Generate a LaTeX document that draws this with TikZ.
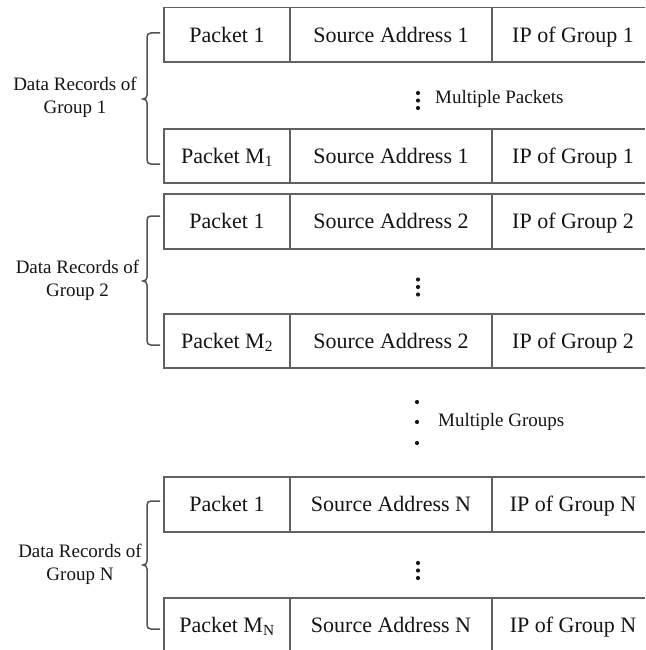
\documentclass[tikz,border=0pt]{standalone}
\usepackage{fontspec}
\setmainfont{Liberation Serif}
\begin{document}
\begin{tikzpicture}[x=1pt,y=-1pt,
  grid/.style={draw=black!62,line width=1.3pt},
  bracepath/.style={draw=black!68,line width=1.5pt},
  cell/.style={anchor=base,inner sep=0pt,text=black!92,font=\fontsize{22}{26}\selectfont},
  sidelabel/.style={anchor=north,inner sep=0pt,align=center,text=black!92,font=\fontsize{19}{23}\selectfont},
  note/.style={anchor=west,inner sep=0pt,text=black!92,font=\fontsize{19}{23}\selectfont},
  vdot/.style={fill=black!90,draw=none,circle,inner sep=0pt,minimum size=4.2pt}]
\useasboundingbox (0,0) rectangle (645,650);

% a closed record row: #1 top, #2 bottom
\newcommand\recrow[2]{%
  \draw[grid] (645,#1) -- (164,#1) -- (164,#2) -- (645,#2);
  \draw[grid] (290,#1) -- (290,#2);
  \draw[grid] (492,#1) -- (492,#2);}
% a group brace: #1 top, #2 tip, #3 bottom
\newcommand\grpbrace[3]{%
  \draw[bracepath] (160,#1) -- (151,#1) .. controls (148.5,#1) and (147,#1+1.5) .. (147,#1+4)
    -- (147,#2-4) .. controls (147,#2-1.5) and (145.5,#2) .. (143,#2)
    .. controls (145.5,#2) and (147,#2+1.5) .. (147,#2+4)
    -- (147,#3-4) .. controls (147,#3-1.5) and (148.5,#3) .. (151,#3) -- (160,#3);}

% ---- group 1
\recrow{7.5}{62}
\recrow{129}{183}
\node[cell] (g1p1) at (227,42.3) {Packet 1};
\node[cell] (g1s1) at (391,42.3) {Source Address 1};
\node[cell] (g1i1) at (573,42.3) {IP of Group 1};
\node[cell] (g1pm) at (227,163.3) {Packet M\textsubscript{1}};
\node[cell] (g1sm) at (391,163.3) {Source Address 1};
\node[cell] (g1im) at (573,163.3) {IP of Group 1};
\node[vdot] (g1d1) at (418,93) {};
\node[vdot] (g1d2) at (418,100.5) {};
\node[vdot] (g1d3) at (418,108) {};
\node[note] (g1note) at (435,99) {Multiple Packets};
\grpbrace{33}{99}{164}
\node[sidelabel] (g1lab) at (75,77) {Data Records of\\Group 1};

% ---- group 2
\recrow{194}{249}
\recrow{314}{368}
\node[cell] (g2p1) at (227,228.8) {Packet 1};
\node[cell] (g2s1) at (391,228.8) {Source Address 2};
\node[cell] (g2i1) at (573,228.8) {IP of Group 2};
\node[cell] (g2pm) at (227,348.3) {Packet M\textsubscript{2}};
\node[cell] (g2sm) at (391,348.3) {Source Address 2};
\node[cell] (g2im) at (573,348.3) {IP of Group 2};
\node[vdot] (g2d1) at (418,279.5) {};
\node[vdot] (g2d2) at (418,287) {};
\node[vdot] (g2d3) at (418,294.5) {};
\grpbrace{216}{281}{345}
\node[sidelabel] (g2lab) at (77.5,260) {Data Records of\\Group 2};

% ---- between groups
\node[vdot] (gd1) at (417,402) {};
\node[vdot] (gd2) at (417,422) {};
\node[vdot] (gd3) at (417,443) {};
\node[note] (gnote) at (438,422) {Multiple Groups};

% ---- group N
\recrow{477}{532}
\draw[grid] (645,598) -- (164,598) -- (164,651);
\draw[grid] (290,598) -- (290,651);
\draw[grid] (492,598) -- (492,651);
\node[cell] (gnp1) at (227,511.8) {Packet 1};
\node[cell] (gns1) at (391,511.8) {Source Address N};
\node[cell] (gni1) at (573,511.8) {IP of Group N};
\node[cell] (gnpm) at (227,632.3) {Packet M\textsubscript{N}};
\node[cell] (gnsm) at (391,632.3) {Source Address N};
\node[cell] (gnim) at (573,632.3) {IP of Group N};
\node[vdot] (gnd1) at (418,563) {};
\node[vdot] (gnd2) at (418,570.5) {};
\node[vdot] (gnd3) at (418,578) {};
\grpbrace{501}{565}{629}
\node[sidelabel] (gnlab) at (80,544) {Data Records of\\Group N};
\end{tikzpicture}
\end{document}
